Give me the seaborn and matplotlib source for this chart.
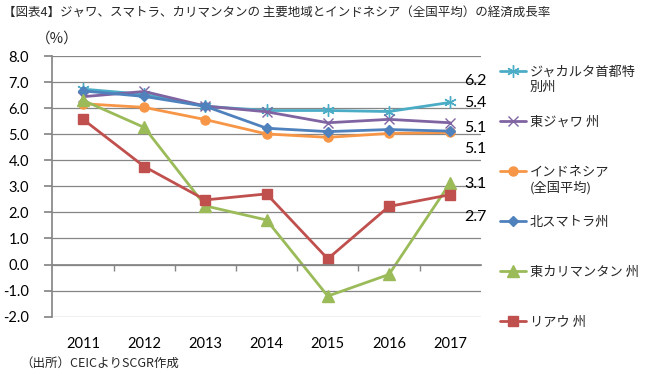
import pandas as pd
import numpy as np
import seaborn as sns
import matplotlib.pyplot as plt
from matplotlib.offsetbox import HPacker, DrawingArea


# growth rate (%) by region
years = ['2011', '2012', '2013', '2014', '2015', '2016', '2017']
regions = ['ジャカルタ首都特別州', '東ジャワ州', 'インドネシア（全国平均）',
           '北スマトラ州', '東カリマンタン州', 'リアウ州']
legend_labels = ['ジャカルタ首都特\n別州', '東ジャワ 州\n ', 'インドネシア\n(全国平均)',
                 '北スマトラ州\n ', '東カリマンタン 州\n ', 'リアウ 州\n ']

jakarta = [6.73, 6.53, 6.07, 5.91, 5.91, 5.87, 6.22]
east_java = [6.44, 6.64, 6.08, 5.86, 5.44, 5.57, 5.44]
indonesia = [6.17, 6.03, 5.56, 5.01, 4.88, 5.03, 5.07]
north_sumatra = [6.66, 6.45, 6.07, 5.23, 5.10, 5.18, 5.12]
east_kalimantan = [6.30, 5.26, 2.25, 1.71, -1.21, -0.38, 3.13]
riau = [5.57, 3.76, 2.48, 2.71, 0.22, 2.23, 2.68]

colors = ['#4BACC6', '#8064A2', '#F79646', '#4F81BD', '#9BBB59', '#C0504D']
markers = [(6, 2, 0), 'x', 'o', 'D', '^', 's']
marker_sizes = [9, 7, 6.5, 5.5, 8.5, 7]

df = pd.DataFrame({
    'year': years * 6,
    'region': np.repeat(regions, len(years)),
    'growth': jakarta + east_java + indonesia + north_sumatra + east_kalimantan + riau,
})

sns.set_theme(style='white')
plt.rcParams['font.family'] = ['Noto Sans CJK JP', 'DejaVu Sans']

fig = plt.figure(figsize=(6.47, 3.79), dpi=100)
ax = fig.add_axes([0.0811, 0.1644, 0.6619, 0.6878])

# seaborn won't mix line-art and filled markers, so markers are set afterwards
sns.lineplot(data=df, x='year', y='growth', hue='region', style='region',
             hue_order=regions, style_order=regions, palette=colors,
             markers=['o'] * 6, dashes=False, linewidth=2.0, sort=False, ax=ax)


def style_line(line, c, m, ms):
    line.set_color(c)
    line.set_marker(m)
    line.set_markersize(ms)
    line.set_markeredgecolor(c)
    line.set_markerfacecolor(c)
    line.set_markeredgewidth(1.0)
    line.set_linewidth(2.0)


for line, c, m, ms in zip(ax.lines, colors, markers, marker_sizes):
    style_line(line, c, m, ms)

grey = '#868686'
ax.set_xlim(-0.5, 6.5)
ax.set_ylim(-2, 8)
ax.set_yticks(np.arange(-2, 9, 1))
ax.set_yticklabels([f'{v:.1f}' for v in np.arange(-2, 9, 1)])
ax.grid(axis='y', color=grey, lw=0.9)
ax.spines[['top', 'right']].set_visible(False)
ax.spines['left'].set_color(grey)
ax.spines['bottom'].set_color(grey)
ax.spines['bottom'].set_position(('data', 0))
ax.set_xticks(np.arange(0.5, 6, 1), minor=True)
ax.tick_params(axis='x', which='major', bottom=True, length=0, pad=52.5,
               labelsize=10.5, labelfontfamily='Lato', labelcolor='black')
ax.tick_params(axis='x', which='minor', bottom=True, length=4, color=grey, direction='out')
ax.tick_params(axis='y', left=True, length=6, color=grey, pad=11,
               labelsize=10.5, labelfontfamily='Lato', labelcolor='black')
ax.set_xlabel('')
ax.set_ylabel('')

# value labels for 2017
label_series = [jakarta, east_java, north_sumatra, indonesia, east_kalimantan, riau]
label_y = [7.05, 6.2, 5.25, 4.42, 3.08, 1.81]
for vals, y in zip(label_series, label_y):
    ax.text(6.6, y, f'{vals[-1]:.1f}', ha='right', va='center',
            fontsize=11.5, fontfamily='Lato', color='black')

sns.move_legend(ax, 'upper left', bbox_to_anchor=(500 / 647, 1 - 66 / 379),
                bbox_transform=fig.transFigure, frameon=False, title=None,
                fontsize=9.5, handlelength=2.0, handletextpad=0.25,
                borderpad=0, borderaxespad=0, labelspacing=1.65, handleheight=1.1)
leg = ax.get_legend()
for t, lab in zip(leg.get_texts(), legend_labels):
    t.set_text(lab)
    t.set_multialignment('left')
for h, c, m, ms in zip(leg.legend_handles, colors, markers, marker_sizes):
    style_line(h, c, m, ms)
# handle lines up with the first line of each label
for box in leg.findobj(HPacker):
    if any(isinstance(ch, DrawingArea) for ch in box.get_children()):
        box.align = 'top'

fig.text(0.004, 1 - 12.5 / 379, '【図表4】ジャワ、スマトラ、カリマンタンの 主要地域とインドネシア（全国平均）の経済成長率',
         ha='left', va='center', fontsize=9)
fig.text(57 / 647, 1 - 39 / 379, '（%）', ha='center', va='center', fontsize=10.5)
fig.text(20 / 647, 1 - 363 / 379, '（出所）CEICよりSCGR作成', ha='left', va='center', fontsize=9)

fig.savefig('out.png', dpi=100)
